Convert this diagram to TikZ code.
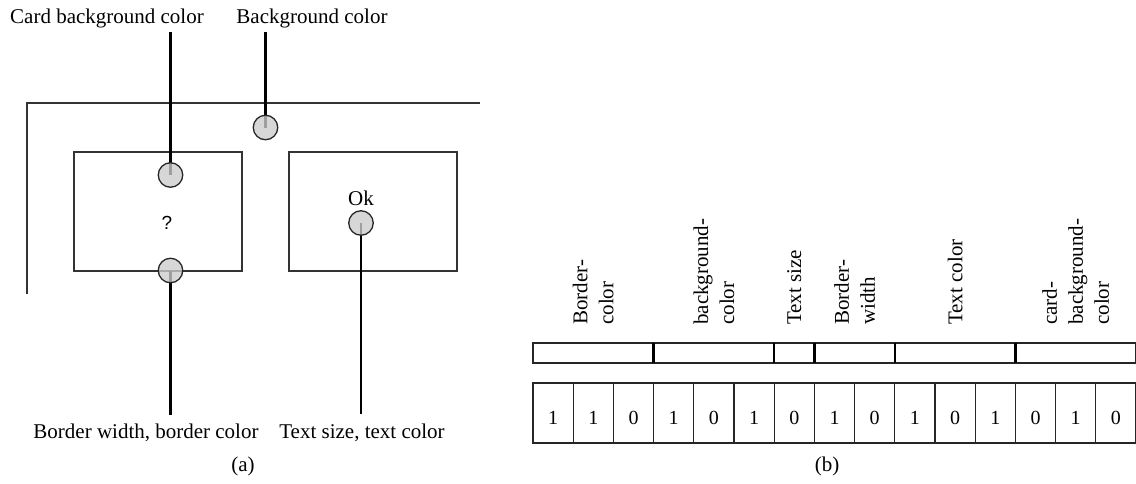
\documentclass[tikz,border=0pt]{standalone}
\usepackage{fontspec}
\setmainfont{Liberation Serif}
\newfontfamily\qfont{Liberation Sans}
\begin{document}
\begin{tikzpicture}[x=1pt,y=-1pt,
  lbl/.style={font=\fontsize{21}{26}\selectfont, inner sep=0pt, anchor=base},
  vlbl/.style={font=\fontsize{21}{26}\selectfont, inner sep=0pt, rotate=90, anchor=west, align=left},
  frameline/.style={line width=1.4pt, draw=black!80},
  card/.style={draw=black!80, line width=1.4pt, minimum width=168pt, minimum height=119pt, inner sep=0pt},
  probe/.style={circle, draw=black!85, line width=1.3pt, fill=black!20, fill opacity=0.78, minimum size=24.5pt, inner sep=0pt},
  lead/.style={line width=2.3pt, draw=black},
  cell/.style={draw=black!85, line width=1.2pt, minimum width=40.2pt, minimum height=60pt, inner sep=0pt,
               font=\fontsize{20}{24}\selectfont, text height=22pt, text depth=0pt},
  barline/.style={draw=black!85, line width=1.2pt},
  divider/.style={draw=black, line width=2.4pt}
]
\useasboundingbox (0,0) rectangle (1136,483);

% ---------- (a) screen layout ----------
\coordinate (fBL) at (27,294);
\coordinate (fTL) at (27,103);
\coordinate (fTR) at (480,103);
\draw[frameline] (fBL) -- (fTL) -- (fTR);

\node[card] (cardL) at (158,211.5) {};
\node[card] (cardR) at (373,211.5) {};
\node[inner sep=0pt, font=\qfont\fontsize{19}{22}\selectfont] (qmark) at (167,223) {?};
\node[lbl] (ok) at (361,205) {Ok};

% probe positions and lead ends
\coordinate (bgC) at (265.5,127.5);
\coordinate (cbC) at (170.5,175);
\coordinate (bwC) at (170.5,270.5);
\coordinate (txC) at (361,223);
\coordinate (bgEnd) at (265.5,32);
\coordinate (cbEnd) at (170.5,32);
\coordinate (bwEnd) at (170.5,415);
\coordinate (txEnd) at (361,414);

\draw[lead] (bgEnd) -- (bgC);
\draw[lead] (cbEnd) -- (cbC);
\draw[lead] (bwEnd) -- (bwC);
\draw[lead] (txEnd) -- (txC);

\node[probe] (bgP) at (bgC) {};
\node[probe] (cbP) at (cbC) {};
\node[probe] (bwP) at (bwC) {};
\node[probe] (txP) at (txC) {};

\node[lbl] (cbLabel) at (107,23) {Card background color};
\node[lbl] (bgLabel) at (312,23) {Background color};
\node[lbl] (bwLabel) at (146,438) {Border width, border color};
\node[lbl] (tsLabel) at (362,438) {Text size, text color};
\node[lbl] (capA) at (243,471) {(a)};

% ---------- (b) encoded bit string ----------
\foreach \d [count=\i from 0] in {1,1,0,1,0,1,0,1,0,1,0,1,0,1,0} {
  \node[cell] (c\i) at ({553.1+40.2*\i},413) {\d};
}

% field bar with group dividers
\draw[barline] (533,343) rectangle (1136,363);
\foreach \k in {3,6,7,9,12} {
  \draw[divider] ({533+40.2*\k},343) -- ({533+40.2*\k},363);
}

\node[vlbl] (f1) at (593.3,325) {Border-\\color};
\node[vlbl] (f2) at (713.9,325) {background-\\color};
\node[vlbl] (f3) at (794.3,325) {Text size};
\node[vlbl] (f4) at (854.6,325) {Border-\\width};
\node[vlbl] (f5) at (955.1,325) {Text color};
\node[vlbl] (f6) at (1075.7,325) {card-\\background-\\color};

\node[lbl] (capB) at (827,471) {(b)};
\end{tikzpicture}
\end{document}
